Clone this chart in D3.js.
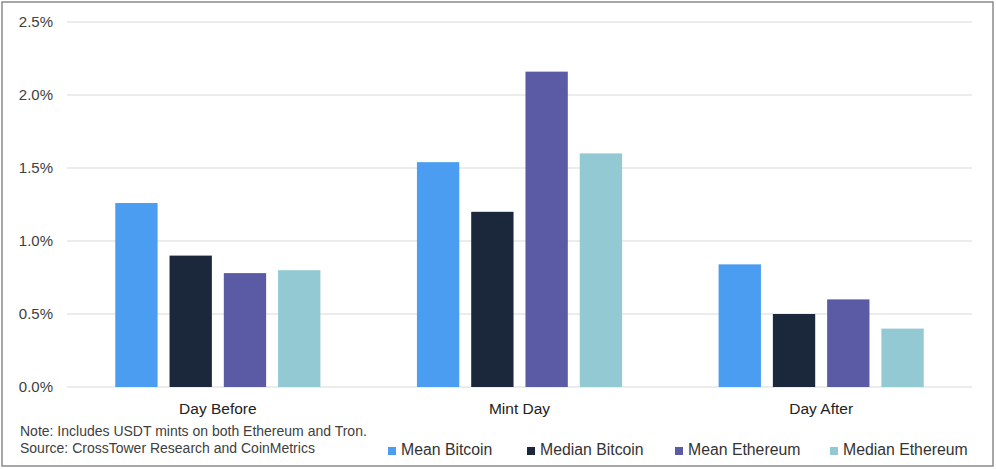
<!DOCTYPE html>
<html><head><meta charset="utf-8">
<script src="https://cdn.jsdelivr.net/npm/d3@7"></script>
<style>body{margin:0;background:#fff;}svg{display:block;font-family:"Liberation Sans",Arial,sans-serif;}</style>
</head><body>
<svg id="c" width="996" height="469"></svg>
<script>
const categories = ["Day Before", "Mint Day", "Day After"];
const seriesNames = ["Mean Bitcoin", "Median Bitcoin", "Mean Ethereum", "Median Ethereum"];
const meanBitcoin = [1.26, 1.54, 0.84];
const medianBitcoin = [0.90, 1.20, 0.50];
const meanEthereum = [0.78, 2.16, 0.60];
const medianEthereum = [0.80, 1.60, 0.40];
const yTicks = [0, 0.5, 1.0, 1.5, 2.0, 2.5];
const colors = ["#4a9df0", "#1b283b", "#5b5aa5", "#92c9d2"];
const noteLines = ["Note: Includes USDT mints on both Ethereum and Tron.", "Source: CrossTower Research and CoinMetrics"];

const series = [meanBitcoin, medianBitcoin, meanEthereum, medianEthereum];
const svg = d3.select("#c");
svg.append("rect").attr("x",2).attr("y",2).attr("width",991).attr("height",464)
  .attr("fill","#fff").attr("stroke","#8a8a8a").attr("stroke-width",1.5);

const pLeft=67,pRight=972,pTop=22,pBottom=387;
const x0 = d3.scaleBand().domain(categories).range([pLeft,pRight]).paddingInner(0.32).paddingOuter(0.16);
const x1 = d3.scaleBand().domain(seriesNames).range([0,x0.bandwidth()]).paddingInner(0.22);
const y = d3.scaleLinear().domain([0,2.5]).range([pBottom,pTop]);

const g = svg.append("g");
g.selectAll("line.grid").data(yTicks).join("line")
  .attr("x1",pLeft).attr("x2",pRight).attr("y1",d=>y(d)).attr("y2",d=>y(d))
  .attr("stroke","#d9d9d9").attr("stroke-width",1);

const yAxis = d3.axisLeft(y).tickValues(yTicks).tickFormat(d=>d.toFixed(1)+"%").tickSize(0).tickPadding(0);
const ya = svg.append("g").attr("transform","translate(53,0)").call(yAxis);
ya.select(".domain").remove();
ya.selectAll("text").attr("font-size",15).attr("fill","#404040").attr("font-family","Liberation Sans, Arial, sans-serif");

categories.forEach((c,i)=>{
  const grp = svg.append("g").attr("transform",`translate(${x0(c)},0)`);
  grp.selectAll("rect").data(seriesNames.map((s,j)=>({s,v:series[j][i],j}))).join("rect")
    .attr("x",d=>x1(d.s)).attr("width",x1.bandwidth())
    .attr("y",d=>y(d.v)).attr("height",d=>y(0)-y(d.v))
    .attr("fill",d=>colors[d.j]);
});

const xAxis = d3.axisBottom(x0).tickSize(0).tickPadding(0);
const xa = svg.append("g").attr("transform",`translate(0,${pBottom})`).call(xAxis);
xa.select(".domain").remove();
xa.selectAll("text").attr("font-size",15.5).attr("fill","#222").attr("dy",null).attr("y",27).attr("font-family","Liberation Sans, Arial, sans-serif");

svg.selectAll("text.note").data(noteLines).join("text").attr("class","note")
  .attr("x",20).attr("y",(d,i)=>436+i*17).attr("font-size",14).attr("fill","#404040").text(d=>d);

const legendX = [388, 527, 675, 830];
const lg = svg.selectAll("g.leg").data(seriesNames).join("g").attr("class","leg")
  .attr("transform",(d,i)=>`translate(${legendX[i]},455)`);
lg.append("rect").attr("x",0).attr("y",-8).attr("width",8).attr("height",8).attr("fill",(d,i)=>colors[i]);
lg.append("text").attr("x",13).attr("y",0).attr("font-size",15.8).attr("fill","#333").text(d=>d);
</script>
</body></html>
